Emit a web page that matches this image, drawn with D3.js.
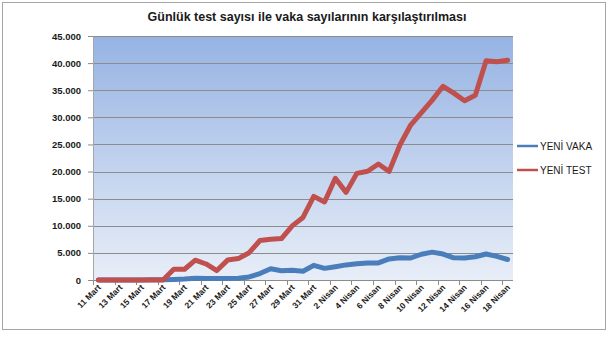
<!DOCTYPE html>
<html>
<head>
<meta charset="utf-8">
<script src="https://cdn.jsdelivr.net/npm/d3@7"></script>
<style>
  body { margin: 0; background: #fff; }
  svg { font-family: "Liberation Sans Narrow", "Liberation Sans", Arial, sans-serif; }
</style>
</head>
<body>
<svg id="chart" width="614" height="351"></svg>
<script>
const days = [
  "11 Mart","12 Mart","13 Mart","14 Mart","15 Mart","16 Mart","17 Mart","18 Mart","19 Mart","20 Mart",
  "21 Mart","22 Mart","23 Mart","24 Mart","25 Mart","26 Mart","27 Mart","28 Mart","29 Mart","30 Mart","31 Mart",
  "1 Nisan","2 Nisan","3 Nisan","4 Nisan","5 Nisan","6 Nisan","7 Nisan","8 Nisan","9 Nisan","10 Nisan",
  "11 Nisan","12 Nisan","13 Nisan","14 Nisan","15 Nisan","16 Nisan","17 Nisan","18 Nisan"
];
const yeniVaka = [
  1, 0, 4, 1, 12, 29, 51, 93, 168, 311,
  277, 289, 293, 343, 561, 1196, 2069, 1704, 1815, 1610, 2704,
  2148, 2456, 2786, 3013, 3135, 3148, 3892, 4117, 4056, 4747,
  5138, 4789, 4093, 4062, 4281, 4801, 4353, 3783
];
const yeniTest = [
  0, 0, 0, 0, 0, 0, 0, 1981, 1981, 3656,
  2953, 1738, 3672, 3952, 5035, 7286, 7533, 7641, 9982, 11535, 15422,
  14396, 18757, 16160, 19664, 20065, 21400, 20023, 24900, 28578, 30864,
  33170, 35720, 34456, 33070, 34090, 40427, 40270, 40520
];
const yTicks = [0, 5000, 10000, 15000, 20000, 25000, 30000, 35000, 40000, 45000];
const series = [
  { name: "YENİ VAKA", values: yeniVaka, color: "#4a7ebb" },
  { name: "YENİ TEST", values: yeniTest, color: "#c0504d" }
];

const margin = { top: 36, left: 93, right: 101, bottom: 71 },
      width = 614 - margin.left - margin.right,
      height = 351 - margin.top - margin.bottom;

const svg = d3.select("#chart");

// outer frame
svg.append("rect")
  .attr("x", 2.5).attr("y", 2.5)
  .attr("width", 603).attr("height", 327)
  .attr("fill", "#fff")
  .attr("stroke", "#a6a6a6");

svg.append("text")
  .attr("x", 307).attr("y", 21)
  .attr("text-anchor", "middle")
  .attr("font-size", 12.5)
  .attr("font-weight", "bold")
  .attr("fill", "#1a1a1a")
  .text("Günlük test sayısı ile vaka sayılarının karşılaştırılması");

const defs = svg.append("defs");
const grad = defs.append("linearGradient")
  .attr("id", "bg").attr("x1", 0).attr("y1", 0).attr("x2", 0).attr("y2", 1);
grad.append("stop").attr("offset", "0%").attr("stop-color", "#96b3e3");
grad.append("stop").attr("offset", "100%").attr("stop-color", "#e8eef8");

const g = svg.append("g")
  .attr("transform", `translate(${margin.left},${margin.top})`);

const x = d3.scaleBand().domain(days).range([0, width]);
const y = d3.scaleLinear().domain([0, 45000]).range([height, 0]);

g.append("rect")
  .attr("width", width).attr("height", height)
  .attr("fill", "url(#bg)");

// gridlines
g.selectAll(".grid")
  .data(yTicks.slice(1))
  .enter()
  .append("line")
  .attr("x1", 0).attr("x2", width)
  .attr("y1", d => Math.round(y(d)) + 0.5)
  .attr("y2", d => Math.round(y(d)) + 0.5)
  .attr("stroke", "#8c8c8c")
  .attr("stroke-width", 1);

// Y-axis
const yAxis = g.append("g")
  .call(d3.axisLeft(y).tickValues(yTicks).tickSize(5).tickPadding(7)
    .tickFormat(d => d3.format(",")(d).replace(/,/g, ".")));
yAxis.select(".domain").attr("stroke", "#a6a6a6");
yAxis.selectAll(".tick line").attr("stroke", "#8c8c8c");
yAxis.selectAll("text")
  .attr("font-size", 9.5)
  .attr("font-weight", "bold")
  .attr("fill", "#1a1a1a");

// X-axis: ticks every 2 categories at category boundaries
const boundaries = d3.range(0, days.length + 1, 2);
const xAxis = g.append("g").attr("transform", `translate(0,${height})`);
xAxis.append("line")
  .attr("x1", 0).attr("x2", width).attr("y1", 0.5).attr("y2", 0.5)
  .attr("stroke", "#8c8c8c");
xAxis.selectAll(".xt")
  .data(boundaries)
  .enter()
  .append("line")
  .attr("x1", i => Math.round(i * x.step()) + 0.5)
  .attr("x2", i => Math.round(i * x.step()) + 0.5)
  .attr("y1", 0).attr("y2", 5)
  .attr("stroke", "#8c8c8c");

xAxis.selectAll(".xl")
  .data(days.filter((d, i) => i % 2 === 0))
  .enter()
  .append("text")
  .attr("transform", d => `translate(${x(d) + x.bandwidth() / 2 + 3},${8}) rotate(-45)`)
  .attr("text-anchor", "end")
  .attr("font-size", 8.5)
  .attr("font-weight", "bold")
  .attr("fill", "#1a1a1a")
  .text(d => d);

const line = d3.line()
  .x((d, i) => x(days[i]) + x.bandwidth() / 2)
  .y(d => y(d));

g.selectAll(".series")
  .data(series)
  .enter()
  .append("path")
  .attr("d", d => line(d.values))
  .attr("fill", "none")
  .attr("stroke", d => d.color)
  .attr("stroke-width", 5)
  .attr("stroke-linejoin", "round")
  .attr("stroke-linecap", "round");

// legend
const legend = svg.append("g").attr("transform", "translate(517,146)");
const item = legend.selectAll(".item")
  .data(series)
  .enter()
  .append("g")
  .attr("transform", (d, i) => `translate(0,${i * 24})`);
item.append("line")
  .attr("x1", 0).attr("x2", 21).attr("y1", 0).attr("y2", 0)
  .attr("stroke", d => d.color)
  .attr("stroke-width", 2.5);
item.append("text")
  .attr("x", 23).attr("y", 4)
  .attr("font-size", 10)
  .attr("fill", "#1a1a1a")
  .text(d => d.name);
</script>
</body>
</html>
